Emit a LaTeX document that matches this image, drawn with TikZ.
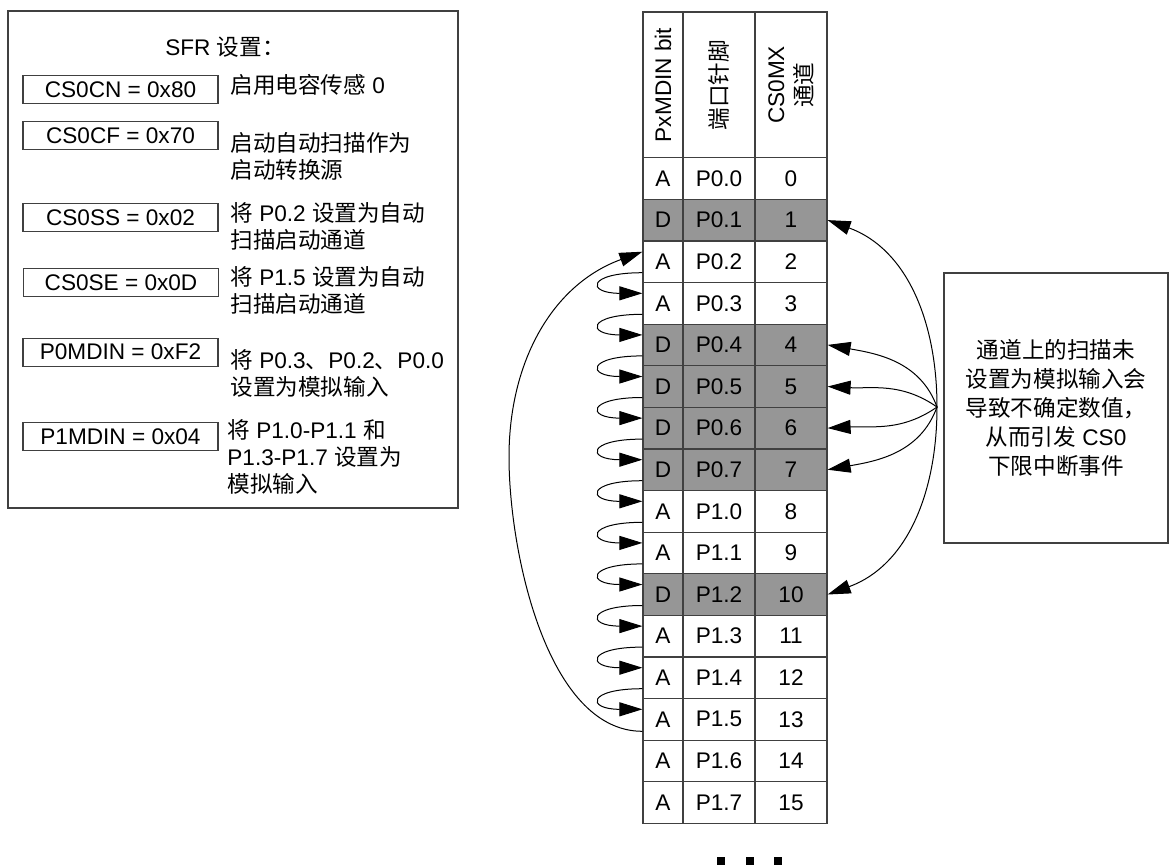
\documentclass[tikz,border=0pt]{standalone}
\usepackage{fontspec}
\setmainfont{Liberation Sans}
\newfontfamily\zh{Noto Sans CJK SC}
\usetikzlibrary{arrows.meta}
\definecolor{edgegray}{RGB}{64,64,64}
\definecolor{dgray}{RGB}{150,150,150}

\begin{document}
\begin{tikzpicture}[x=.5pt,y=.5pt,font=\fontsize{11.3}{13.5}\selectfont,
 box/.style={draw=edgegray,line width=.6pt,inner sep=0pt},
 reg/.style={box,minimum width=97.5pt,minimum height=14pt},
 desc/.style={anchor=west,align=left,inner sep=0pt},
 cell/.style={draw=edgegray,line width=.6pt,minimum height=20.8pt,inner sep=0pt},
 hdr/.style={cell,rotate=90,minimum width=73pt,align=center,font=\fontsize{11.3}{14}\selectfont},
 arr/.style={-{Triangle[length=11.5pt,width=7pt]},line width=.5pt}]
\useasboundingbox (0,0) rectangle (1169,-864);
\node[box,minimum width=225pt,minimum height=248.5pt] (sfr) at (233,-259.5) {};
\node (sfr-title) at (225,-47) {SFR {\zh 设置：}};
\node[reg] (cn) at (120.5,-89.7) {CS0CN = 0x80};
\node[desc] (cn-txt) at (230,-85) {{\zh 启用电容传感} 0};
\node[reg] (cf) at (120.5,-135.7) {CS0CF = 0x70};
\node[desc] (cf-txt) at (230,-156.5) {{\zh 启动自动扫描作为}\\{\zh 启动转换源}};
\node[reg] (ss) at (120.5,-217.3) {CS0SS = 0x02};
\node[desc] (ss-txt) at (230,-226.5) {{\zh 将} P0.2 {\zh 设置为自动}\\{\zh 扫描启动通道}};
\node[reg] (se) at (121,-282.3) {CS0SE = 0x0D};
\node[desc] (se-txt) at (230,-290) {{\zh 将} P1.5 {\zh 设置为自动}\\{\zh 扫描启动通道}};
\node[reg] (p0) at (120.5,-352.2) {P0MDIN = 0xF2};
\node[desc] (p0-txt) at (230,-373.5) {{\zh 将} P0.3{\zh 、}P0.2{\zh 、}P0.0\\{\zh 设置为模拟输入}};
\node[reg] (p1) at (120.5,-436.7) {P1MDIN = 0x04};
\node[desc] (p1-txt) at (227,-456.7) {{\zh 将} P1.0-P1.1 {\zh 和}\\P1.3-P1.7 {\zh 设置为}\\{\zh 模拟输入}};
\node[hdr,minimum height=20pt] (h-bit) at (663,-85) {PxMDIN bit};
\node[hdr,minimum height=36pt] (h-pin) at (719,-85) {{\zh 端口针脚}};
\node[hdr,minimum height=36pt] (h-ch) at (791,-85) {CS0MX\\{\zh 通道}};
\foreach \i/\b/\p/\f in {0/A/P0.0/white,1/D/P0.1/dgray,2/A/P0.2/white,3/A/P0.3/white,
 4/D/P0.4/dgray,5/D/P0.5/dgray,6/D/P0.6/dgray,7/D/P0.7/dgray,8/A/P1.0/white,9/A/P1.1/white,
 10/D/P1.2/dgray,11/A/P1.3/white,12/A/P1.4/white,13/A/P1.5/white,14/A/P1.6/white,15/A/P1.7/white}{
 \pgfmathsetmacro\y{-178.5-41.6*\i}
 \node[cell,minimum width=20pt,fill=\f] (bit-\i) at (663,\y) {\b};
 \node[cell,minimum width=36pt,fill=\f] (pin-\i) at (719,\y) {\p};
 \node[cell,minimum width=36pt,fill=\f] (ch-\i) at (791,\y) {\i};
}
\foreach \k [evaluate=\k as \n using int(\k+1)] in {2,...,12}
 \draw[arr] ([yshift=-5.5pt]bit-\k.west) .. controls +(-56,0) and +(-56,0) .. ([yshift=5pt]bit-\n.west);
\coordinate (arc-left) at (509,-457);
\draw[arr] ([yshift=-6pt]bit-13.west) to[out=180,in=-90,looseness=.8] (arc-left)
 to[out=90,in=200] ([yshift=5pt]bit-2.west);
\node[box,minimum width=112pt,minimum height=135pt,align=center,font=\fontsize{11.3}{14.5}\selectfont] (note) at (1056,-408)
 {{\zh 通道上的扫描未}\\{\zh 设置为模拟输入会}\\{\zh 导致不确定数值，}\\{\zh 从而引发} CS0\\{\zh 下限中断事件}};
\coordinate (fan) at (937,-407);
\draw[arr] (fan) to[out=90,in=-20] (ch-1.east);
\draw[arr] (fan) to[out=110,in=-10] (ch-4.east);
\draw[arr] (fan) to[out=145,in=-3] (ch-5.east);
\draw[arr] (fan) to[out=-145,in=3] (ch-6.east);
\draw[arr] (fan) to[out=-110,in=10] (ch-7.east);
\draw[arr] (fan) to[out=-90,in=20] (ch-10.east);
\foreach \sx in {720.5,750,778}
 \fill (\sx-4,-857) rectangle (\sx+4,-872);
\end{tikzpicture}
\end{document}
